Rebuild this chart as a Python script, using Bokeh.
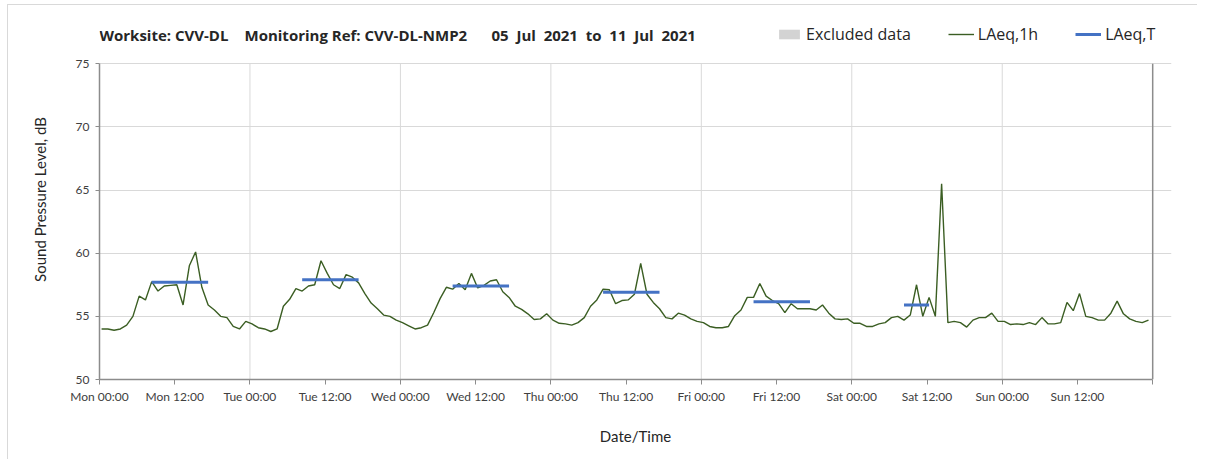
from bokeh.plotting import figure
from bokeh.models import (Range1d, FixedTicker, Legend, LegendItem,
                          ColumnDataSource, Label)
from bokeh.embed import file_html
from bokeh.resources import INLINE

# ---------------- data ----------------
hours = list(range(168))  # hours since Mon 05 Jul 2021 00:00
laeq_1h = [
    # Mon
    54.0, 54.0, 53.9, 54.0, 54.3, 55.0, 56.6, 56.3, 57.75, 57.0, 57.4, 57.45,
    57.5, 55.9, 59.0, 60.1, 57.3, 55.9, 55.5, 55.0, 54.9, 54.2, 54.0, 54.6,
    # Tue
    54.4, 54.1, 54.0, 53.8, 54.0, 55.8, 56.35, 57.2, 57.0, 57.4, 57.5, 59.4,
    58.4, 57.5, 57.2, 58.3, 58.1, 57.65, 56.8, 56.05, 55.6, 55.1, 55.0, 54.7,
    # Wed
    54.5, 54.25, 54.0, 54.1, 54.3, 55.3, 56.4, 57.3, 57.15, 57.6, 57.1, 58.4,
    57.25, 57.45, 57.8, 57.9, 56.95, 56.5, 55.8, 55.55, 55.2, 54.75, 54.8, 55.2,
    # Thu
    54.7, 54.45, 54.4, 54.3, 54.5, 54.9, 55.8, 56.3, 57.15, 57.1, 56.0, 56.25,
    56.3, 56.75, 59.2, 56.75, 56.1, 55.6, 54.9, 54.8, 55.25, 55.1, 54.8, 54.6,
    # Fri
    54.5, 54.2, 54.1, 54.1, 54.2, 55.05, 55.5, 56.5, 56.5, 57.6, 56.6, 56.25,
    56.0, 55.3, 56.0, 55.6, 55.6, 55.6, 55.5, 55.9, 55.25, 54.8, 54.75, 54.8,
    # Sat
    54.45, 54.45, 54.2, 54.2, 54.4, 54.5, 54.9, 55.0, 54.7, 55.1, 57.5, 55.0,
    56.5, 55.0, 65.5, 54.5, 54.6, 54.5, 54.15, 54.7, 54.9, 54.9, 55.25, 54.6,
    # Sun
    54.6, 54.35, 54.4, 54.35, 54.5, 54.35, 54.9, 54.4, 54.4, 54.5, 56.1, 55.45,
    56.8, 55.0, 54.9, 54.7, 54.7, 55.25, 56.2, 55.2, 54.8, 54.6, 54.5, 54.7,
]

# LAeq,T over the working-hours periods (first and last hourly period)
period_start = [8, 32, 56, 80, 104, 128]
period_end = [17, 41, 65, 89, 113, 132]
laeq_t = [57.7, 57.9, 57.4, 56.9, 56.15, 55.9]

# excluded periods: none in this week
excl_start = [float("nan")]
excl_end = [float("nan")]

tick_hours = [0, 12, 24, 36, 48, 60, 72, 84, 96, 108, 120, 132, 144, 156, 168]
tick_labels = ["Mon 00:00", "Mon 12:00", "Tue 00:00", "Tue 12:00", "Wed 00:00",
               "Wed 12:00", "Thu 00:00", "Thu 12:00", "Fri 00:00", "Fri 12:00",
               "Sat 00:00", "Sat 12:00", "Sun 00:00", "Sun 12:00", ""]
day_hours = [0, 24, 48, 72, 96, 120, 144, 168]
y_ticks = [50, 55, 60, 65, 70, 75]
X_MIN, X_MAX = 0, 168
Y_MIN, Y_MAX = 50, 75

title_parts = ["Worksite: CVV-DL", "Monitoring Ref: CVV-DL-NMP2",
               "05\u00a0 Jul\u00a0 2021\u00a0 to\u00a0 11\u00a0 Jul\u00a0 2021"]

# ---------------- plot ----------------
PT_OFF = 0.33      # hourly values are drawn slightly after the hour mark
TOP_ROOM = 78.5    # frame extends above the axis top to hold title + legend
RIGHT_ROOM = 171   # frame extends right of the axis end to hold the legend
FONT = "Lato"
AXIS_GREY = "#8c8c8c"
GRID_GREY = "#d9d9d9"

p = figure(width=1190, height=455, output_backend="svg", toolbar_location=None,
           title=None,
           x_range=Range1d(X_MIN, RIGHT_ROOM), y_range=Range1d(Y_MIN, TOP_ROOM),
           min_border_left=91, min_border_right=27, min_border_top=14,
           min_border_bottom=81)
p.styles = {"margin-left": "7px", "margin-top": "4px",
            "border-top": "1px solid #d9d9d9", "border-left": "1px solid #d9d9d9"}
p.outline_line_color = None
p.background_fill_color = "white"
p.border_fill_color = "white"

# axes
xa = p.xaxis[0]
xa.ticker = FixedTicker(ticks=tick_hours)
xa.bounds = (X_MIN, X_MAX)
xa.major_label_overrides = {h: lab for h, lab in zip(tick_hours, tick_labels)}
xa.minor_tick_line_color = None
xa.major_tick_in = 0
xa.major_tick_out = 5
xa.axis_line_color = AXIS_GREY
xa.axis_line_width = 1.5
xa.major_tick_line_color = AXIS_GREY
xa.major_label_text_font = FONT
xa.major_label_text_font_size = "12px"
xa.major_label_text_color = "#404040"
xa.major_label_standoff = 4
xa.axis_label = "Date/Time"
xa.axis_label_text_font = FONT
xa.axis_label_text_font_size = "15px"
xa.axis_label_text_font_style = "normal"
xa.axis_label_text_color = "#262626"
xa.axis_label_standoff = 20

ya = p.yaxis[0]
ya.ticker = FixedTicker(ticks=y_ticks)
ya.bounds = (Y_MIN, Y_MAX)
ya.minor_tick_line_color = None
ya.major_tick_in = 0
ya.major_tick_out = 4
ya.axis_line_color = AXIS_GREY
ya.axis_line_width = 1.5
ya.major_tick_line_color = AXIS_GREY
ya.major_label_text_font = FONT
ya.major_label_text_font_size = "12px"
ya.major_label_text_color = "#404040"
ya.major_label_standoff = 6
ya.axis_label = "Sound Pressure Level, dB"
ya.axis_label_text_font = FONT
ya.axis_label_text_font_size = "15px"
ya.axis_label_text_font_style = "normal"
ya.axis_label_text_color = "#262626"
ya.axis_label_standoff = 24

# grids (horizontal via Grid, vertical day lines as segments limited to the axes box)
p.xgrid.visible = False
p.ygrid.ticker = FixedTicker(ticks=y_ticks)
p.ygrid.grid_line_color = GRID_GREY
p.ygrid.bounds = (X_MIN, X_MAX)
vg = ColumnDataSource(dict(x=day_hours[1:-1], y0=[Y_MIN] * (len(day_hours) - 2),
                           y1=[Y_MAX] * (len(day_hours) - 2)))
p.segment(x0="x", y0="y0", x1="x", y1="y1", source=vg, line_color=GRID_GREY,
          line_width=1)
# right-hand border of the axes box
p.segment(x0=[X_MAX], y0=[Y_MIN], x1=[X_MAX], y1=[Y_MAX], line_color=AXIS_GREY,
          line_width=1.5)

# glyphs
esrc = ColumnDataSource(dict(left=excl_start, right=excl_end,
                             bottom=[Y_MIN] * len(excl_start),
                             top=[Y_MAX] * len(excl_start)))
excl = p.quad(left="left", right="right", top="top", bottom="bottom",
              source=esrc, fill_color="#d3d3d3", line_color=None)

src = ColumnDataSource(dict(x=[h + PT_OFF for h in hours], y=laeq_1h))
ln = p.line("x", "y", source=src, line_color="#3b5e23", line_width=1.4)

tsrc = ColumnDataSource(dict(x0=[s + PT_OFF for s in period_start],
                             x1=[e + PT_OFF for e in period_end],
                             y=laeq_t))
seg = p.segment(x0="x0", y0="y", x1="x1", y1="y", source=tsrc,
                line_color="#4472c4", line_width=3)

# title (inside the extended frame), three parts spaced as in the original
TITLE_Y = 77.24
for txt, off in zip(title_parts, [0, 145, 392]):
    p.add_layout(Label(x=0, y=TITLE_Y, x_offset=off, text=txt,
                       text_baseline="middle", text_align="left",
                       text_font="Open Sans", text_font_style="bold",
                       text_font_size="15px", text_color="#262626"))

legend = Legend(items=[LegendItem(label="Excluded data", renderers=[excl]),
                       LegendItem(label="LAeq,1h", renderers=[ln]),
                       LegendItem(label="LAeq,T", renderers=[seg])],
                orientation="horizontal", location=(677, 334),
                glyph_width=26, glyph_height=12, label_standoff=4, spacing=37,
                padding=0, margin=0, border_line_color=None,
                background_fill_alpha=0, label_text_font="Open Sans",
                label_text_font_size="16px", label_text_color="#262626")
p.add_layout(legend, "center")

open("out.html", "w").write(file_html(p, INLINE))
